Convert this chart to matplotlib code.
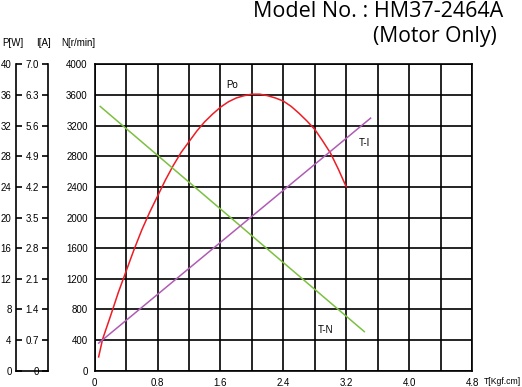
import numpy as np
import matplotlib
matplotlib.use("Agg")
import matplotlib.pyplot as plt

# torque T [Kgf.cm] vs output power Po [W]
torque_po = [0.05, 0.1, 0.2, 0.3, 0.4, 0.5, 0.6, 0.7, 0.8, 0.9, 1.0, 1.1, 1.2, 1.3, 1.4, 1.5, 1.6,
             1.7, 1.8, 1.9, 2.0, 2.1, 2.2, 2.3, 2.4, 2.5, 2.6, 2.7, 2.8, 2.9, 3.0, 3.1, 3.2]
power = [1.8, 4.1, 7.1, 10.2, 13.0, 15.8, 18.4, 20.7, 22.8, 24.9, 26.8, 28.5, 29.9, 31.3, 32.5, 33.5, 34.4,
         35.1, 35.6, 35.9, 36.1, 36.1, 35.9, 35.6, 35.2, 34.5, 33.6, 32.6, 31.5, 30.0, 28.4, 26.3, 24.0]

# torque vs speed N [r/min]
torque_n = [0.07, 3.43]
speed = [3450, 510]

# torque vs current I [A]
torque_i = [0.05, 3.51]
current = [0.63, 5.77]

n_ticks = np.arange(0, 4001, 400)
p_ticks = np.arange(0, 41, 4)
i_ticks = np.arange(0, 7.01, 0.7)
i_labels = ["0"] + ["%.1f" % v for v in i_ticks[1:]]
x_grid = np.arange(0, 4.81, 0.4)
x_labels = ["0", "", "0.8", "", "1.6", "", "2.4", "", "3.2", "", "4.0", "", "4.8"]

plt.rcParams['font.family'] = ['Liberation Sans', 'DejaVu Sans']

W, H = 522, 387
fig = plt.figure(figsize=(W / 100, H / 100), dpi=100)

left, right, top, bottom = 94.7, 472, 64.3, 370.7
rect = [left / W, 1 - bottom / H, (right - left) / W, (bottom - top) / H]

ax = fig.add_axes(rect)
ax.plot(torque_po, [p * 100 for p in power], color='#ee1c24', lw=1.1)
ax.plot(torque_n, speed, color='#7cc040', lw=1.1)
ax.plot(torque_i, [c * 4000 / 7 for c in current], color='#b05cb4', lw=1.1)
ax.set_xlim(0, 4.8)
ax.set_ylim(0, 4000)
ax.set_xticks(x_grid)
ax.set_xticklabels(x_labels, fontsize=7)
ax.set_yticks(n_ticks)
ax.set_yticklabels([str(v) for v in n_ticks], fontsize=7)
ax.tick_params(length=0, pad=5)
ax.grid(True, color='black', lw=1.2)
for s in ax.spines.values():
    s.set_linewidth(1.2)

ax.text(1.75, 3730, "Po", fontsize=7, ha='center', va='center')
ax.text(3.43, 2973, "T-I", fontsize=7, ha='center', va='center')
ax.text(2.94, 525, "T-N", fontsize=7, ha='center', va='center')

# power axis
ax_p = fig.add_axes([15.7 / W, rect[1], (48 - 15.7) / W, rect[3]])
ax_p.set_ylim(0, 40)
ax_p.set_yticks(p_ticks)
ax_p.set_yticklabels([str(v) for v in p_ticks], fontsize=7)
ax_p.set_xticks([])
ax_p.tick_params(axis='y', direction='in', length=4, width=1.2, pad=3)
ax_p.spines['top'].set_visible(False)
ax_p.spines['right'].set_visible(False)
ax_p.spines['left'].set_linewidth(1.2)
ax_p.spines['bottom'].set_linewidth(1.2)
ax_p.patch.set_visible(False)

# current axis
ax_i = fig.add_axes([48 / W, rect[1], 0.001, rect[3]])
ax_i.set_ylim(0, 7)
ax_i.set_yticks(i_ticks)
ax_i.set_yticklabels(i_labels, fontsize=7)
ax_i.set_xticks([])
ax_i.tick_params(axis='y', direction='out', length=4.5, width=1.2, pad=2)
for k in ['top', 'right', 'bottom']:
    ax_i.spines[k].set_visible(False)
ax_i.spines['left'].set_linewidth(1.2)
ax_i.patch.set_visible(False)

fig.text(2 / W, 1 - 43 / H, "P[W]", fontsize=7, va='center')
fig.text(36 / W, 1 - 43 / H, "I[A]", fontsize=7, va='center')
fig.text(61 / W, 1 - 43 / H, "N[r/min]", fontsize=7, va='center')
fig.text(484 / W, 1 - 381.5 / H, "T[Kgf.cm]", fontsize=6.2, va='center')

fig.text(503 / W, 1 - 16.7 / H, "Model No. : HM37-2464A", fontsize=15.5,
         family='Open Sans', ha='right', va='baseline')
fig.text(497 / W, 1 - 42 / H, "(Motor Only)", fontsize=15.2,
         family='Open Sans', ha='right', va='baseline')

fig.savefig("out.png", dpi=100)
